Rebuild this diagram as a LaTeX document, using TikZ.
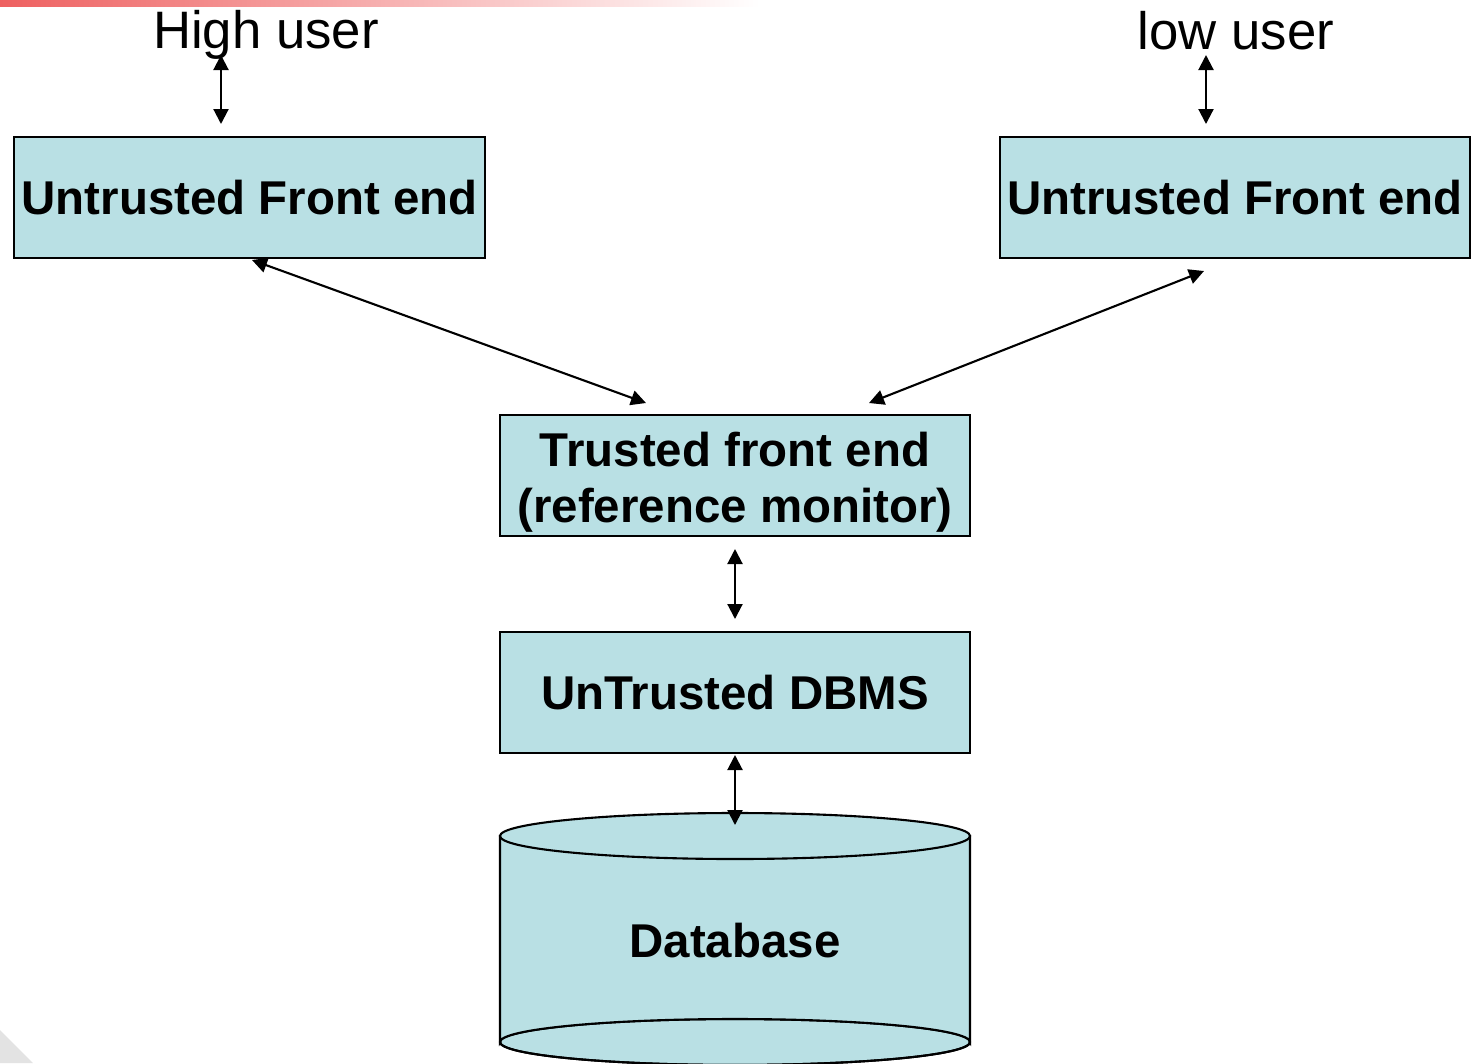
\documentclass[tikz,border=0pt]{standalone}
\usepackage{fontspec}
\setmainfont{Liberation Sans}
\usetikzlibrary{arrows.meta}
\definecolor{boxfill}{RGB}{185,224,228}
\definecolor{barred}{RGB}{238,96,96}
\begin{document}
\begin{tikzpicture}[x=0.02cm,y=-0.02cm,
  unit/.style={draw=black,line width=1.2pt,fill=boxfill,inner sep=0pt,
    minimum width=9.42cm,minimum height=2.42cm,align=center,
    font=\fontsize{27}{32}\selectfont\bfseries},
  user/.style={inner sep=0pt,anchor=base,font=\fontsize{30}{36}\selectfont},
  link/.style={line width=1.2pt,{Triangle[length=0.3cm,width=0.3cm]}-{Triangle[length=0.3cm,width=0.3cm]}}]
\useasboundingbox (0,0) rectangle (1471,1063);
% decorative slide remnants
\shade[left color=barred,right color=white] (0,0) rectangle (760,6);
\fill[gray!22] (0,1030) -- (33,1063) -- (0,1063) -- cycle;

% users
\node[user] (hu) at (266,48) {High user};
\node[user] (lu) at (1236,49) {low user};

% boxes
\node[unit] (ufl) at (249.5,197.5) {Untrusted Front end};
\node[unit] (ufr) at (1235,197.5) {Untrusted Front end};
\node[unit,minimum width=9.4cm] (tfe) at (735,475.5) {};
\node[inner sep=0pt,align=center,font=\fontsize{27}{32}\selectfont\bfseries] (tfetext) at (735,482) {Trusted front end\\(reference monitor)};
\node[unit,minimum width=9.4cm] (dbms) at (735,692.5) {UnTrusted DBMS};

% database cylinder
\begin{scope}[line width=1.2pt]
\filldraw[fill=boxfill] (735,1042) ellipse[x radius=235,y radius=23];
\filldraw[fill=boxfill] (500,836) -- (500,1042) arc[start angle=180,end angle=360,x radius=235,y radius=23]
  -- (970,836) -- cycle;
\draw (500,1042) arc[start angle=180,end angle=0,x radius=235,y radius=23];
\filldraw[fill=boxfill] (735,836) ellipse[x radius=235,y radius=23];
\end{scope}
\node[inner sep=0pt,font=\fontsize{27}{33}\selectfont\bfseries] (db) at (735,941) {Database};

% connector end points
\coordinate (hua) at (221,55);  \coordinate (hub) at (221,124);
\coordinate (lua) at (1206,55); \coordinate (lub) at (1206,124);
\coordinate (ufla) at (252,260); \coordinate (tfea) at (646,403);
\coordinate (ufra) at (1204,271); \coordinate (tfeb) at (869,403);
\coordinate (tfec) at (735,549); \coordinate (dbmsa) at (735,619);
\coordinate (dbmsb) at (735,755); \coordinate (dbtop) at (735,825);

% connectors
\draw[link] (hua) -- (hub);
\draw[link] (lua) -- (lub);
\draw[link] (ufla) -- (tfea);
\draw[link] (ufra) -- (tfeb);
\draw[link] (tfec) -- (dbmsa);
\draw[link] (dbmsb) -- (dbtop);
\end{tikzpicture}
\end{document}
